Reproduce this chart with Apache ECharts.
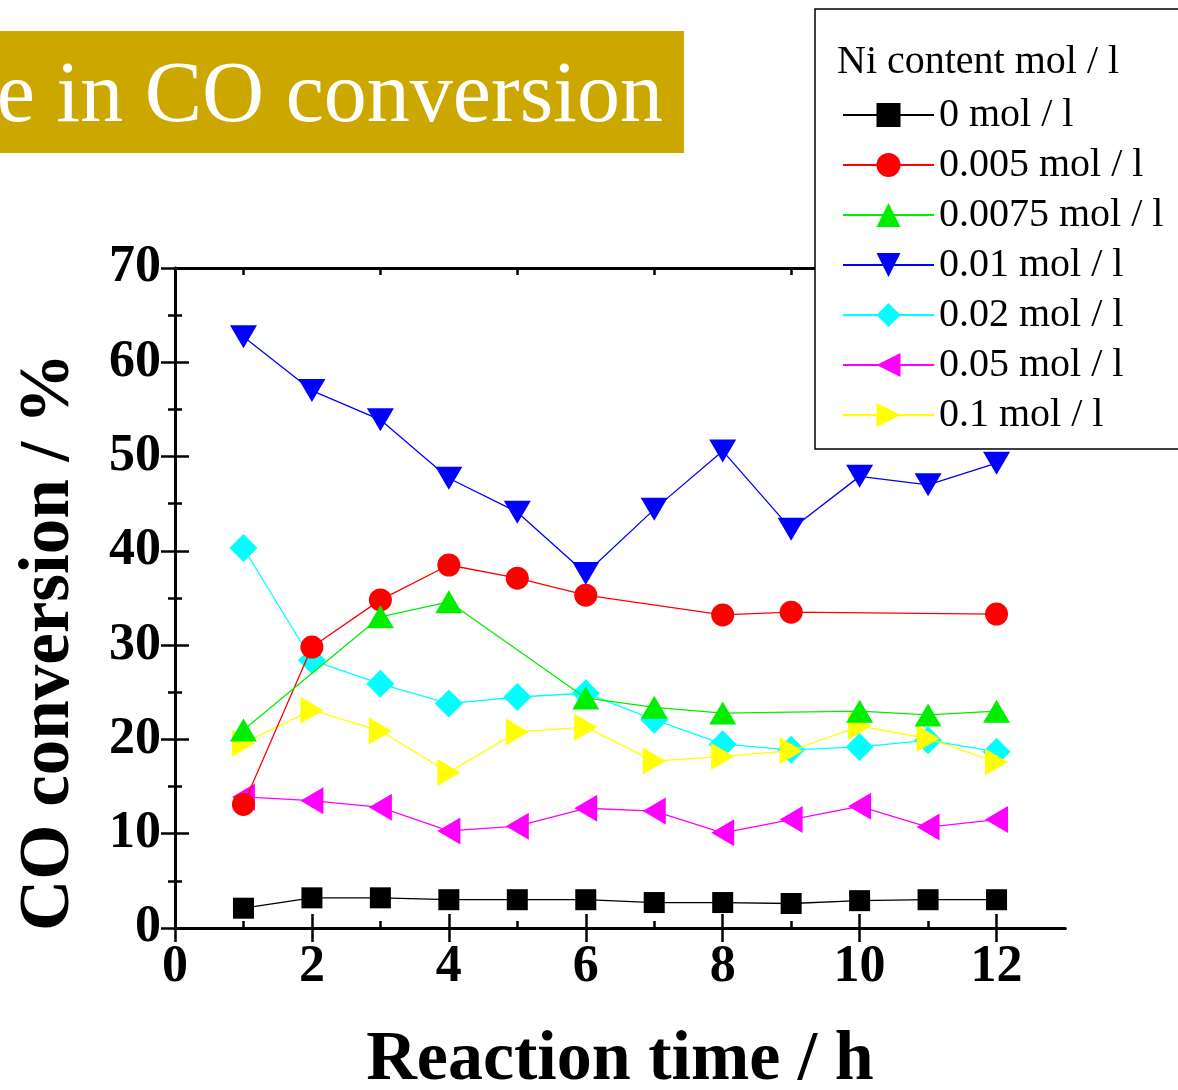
<!DOCTYPE html>
<html>
<head>
<meta charset="utf-8">
<script src="https://cdn.jsdelivr.net/npm/echarts@6/dist/echarts.min.js"></script>
<style>
html,body{margin:0;padding:0;background:#fff;}
#chart{width:1178px;height:1090px;}
</style>
</head>
<body>
<div id="chart"></div>
<script>
// ---- data ----
const hours = [1, 2, 3, 4, 5, 6, 7, 8, 9, 10, 11, 12];
const seriesNames = ['0 mol / l', '0.005 mol / l', '0.0075 mol / l', '0.01 mol / l', '0.02 mol / l', '0.05 mol / l', '0.1 mol / l'];
const ni_0      = [2.1, 3.2, 3.2, 3.0, 3.0, 3.0, 2.7, 2.7, 2.6, 2.9, 3.0, 3.0];
const ni_0005   = [13.1, 29.8, 34.8, 38.5, 37.1, 35.3, null, 33.2, 33.5, null, null, 33.3];
const ni_00075  = [21.0, null, 33.0, 34.6, null, 24.4, 23.4, 22.8, null, 23.0, 22.6, 23.0];
const ni_001    = [62.7, 57.0, 53.9, 47.7, 44.1, 37.6, 44.4, 50.6, 42.3, 47.9, 47.0, 49.3];
const ni_002    = [40.3, 28.4, 25.9, 23.8, 24.5, 24.9, 22.1, 19.5, 18.9, 19.2, 19.9, 18.7];
const ni_005    = [13.9, 13.5, 12.8, 10.3, 10.8, 12.7, 12.4, 10.1, 11.5, 12.9, 10.7, 11.5];
const ni_01     = [19.6, 23.1, 20.9, 16.5, 20.8, 21.3, 17.7, 18.2, 18.8, 21.4, 20.1, 17.6];
const xMajorTicks = [0, 2, 4, 6, 8, 10, 12];
const xMinorTicks = [1, 3, 5, 7, 9, 11];
const yTickLabels = ['0', '10', '20', '30', '40', '50', '60', '70'];
const bannerText = 'e in CO conversion';
const legendTitle = 'Ni content mol / l';
const xTitle = 'Reaction time / h';
const yTitle = 'CO conversion / %';

const allValues = [ni_0, ni_0005, ni_00075, ni_001, ni_002, ni_005, ni_01];
const styles = [
  {color: '#000000', symbol: 'rect',     size: [21, 21], rotate: 0,   z: 8},
  {color: '#ff0000', symbol: 'circle',   size: [23, 23], rotate: 0,   z: 6},
  {color: '#00ee00', symbol: 'triangle', size: [27, 23], rotate: 0,   z: 7},
  {color: '#0000ff', symbol: 'triangle', size: [27, 23], rotate: 180, z: 5},
  {color: '#00ffff', symbol: 'diamond',  size: [28, 28], rotate: 0,   z: 2},
  {color: '#ff00ff', symbol: 'triangle', size: [27, 23], rotate: 90,  z: 3},
  {color: '#ffff00', symbol: 'triangle', size: [27, 23], rotate: -90, z: 4}
];

const FONT = 'Liberation Serif, Times New Roman, serif';
const GL = 175, GT = 268, GW = 890, GH = 660;

const series = seriesNames.map((name, i) => ({
  name: name,
  type: 'line',
  xAxisIndex: 0,
  yAxisIndex: 0,
  data: hours.map((h, k) => [h, allValues[i][k]]),
  connectNulls: true,
  symbol: styles[i].symbol,
  symbolSize: styles[i].size,
  symbolRotate: styles[i].rotate,
  showAllSymbol: true,
  z: styles[i].z,
  itemStyle: {color: styles[i].color, borderWidth: 0},
  lineStyle: {color: styles[i].color, width: 1.3},
  emphasis: {disabled: true}
}));

const axisLineStyle = {show: true, lineStyle: {color: '#000', width: 3}};
function xAx(pos, major, labels) {
  const ax = {
    type: 'value', gridIndex: 0, position: pos, min: 0, max: 13,
    interval: 1,
    axisLine: axisLineStyle,
    axisTick: {show: true, inside: true, length: major ? 14 : 7,
               customValues: major ? xMajorTicks : xMinorTicks,
               lineStyle: {color: '#000', width: 2.5}},
    axisLabel: {show: false},
    splitLine: {show: false}
  };
  if (labels) {
    ax.axisLabel = {
      show: true, margin: 14, customValues: xMajorTicks,
      fontSize: 52, fontWeight: 'bold', fontFamily: FONT, color: '#000'
    };
    ax.name = xTitle;
    ax.nameLocation = 'middle';
    ax.nameGap = 98;
    ax.nameTextStyle = {fontSize: 70, fontWeight: 'bold', fontFamily: FONT, color: '#000'};
  }
  return ax;
}
function yAx(pos, labels) {
  return {
    type: 'value', gridIndex: 0, position: pos, min: 0, max: 70, interval: 10,
    axisLine: axisLineStyle,
    axisTick: {show: true, inside: true, length: 14, lineStyle: {color: '#000', width: 2.5}},
    minorTick: {show: true, splitNumber: 2, length: 7, lineStyle: {color: '#000', width: 2.5}},
    splitLine: {show: false},
    minorSplitLine: {show: false},
    axisLabel: labels ? {
      show: true, margin: 14, fontSize: 52, fontWeight: 'bold', fontFamily: FONT, color: '#000',
      formatter: v => yTickLabels[v / 10]
    } : {show: false}
  };
}

const option = {
  animation: false,
  backgroundColor: '#ffffff',
  grid: {left: GL, top: GT, width: GW, height: GH, containLabel: false, outerBoundsMode: 'none'},
  xAxis: [
    xAx('bottom', true, true),   // bottom major
    xAx('top', true, false),     // top major
    xAx('top', false, false),    // minor (other side)
    xAx('bottom', false, false)  // minor (other side)
  ],
  yAxis: [yAx('left', true), yAx('right', false)],
  legend: {
    orient: 'vertical',
    left: 837, top: 90,
    z: 101,
    data: seriesNames,
    itemWidth: 91, itemHeight: 30, itemGap: 10,
    selectedMode: false,
    textStyle: {fontSize: 40, lineHeight: 40, fontFamily: FONT, color: '#000', padding: [0, 0, 0, 0]}
  },
  graphic: [
    {type: 'rect', z: 100, shape: {x: 0, y: 31, width: 684, height: 122}, style: {fill: '#cca700'}},
    {type: 'text', z: 101, x: 663, y: 98, style: {text: bannerText, fill: '#fff', font: '86px ' + FONT, textAlign: 'right', textVerticalAlign: 'middle'}},
    {type: 'rect', z: 100, shape: {x: 815, y: 9, width: 400, height: 440}, style: {fill: '#fff', stroke: '#000', lineWidth: 1.5}},
    {type: 'text', z: 101, x: 837, y: 62, style: {text: legendTitle, fill: '#000', font: '40px ' + FONT, textAlign: 'left', textVerticalAlign: 'middle'}},
    {type: 'text', z: 101, x: 50, y: 642, rotation: Math.PI / 2, style: {text: yTitle, fill: '#000', font: 'bold 71px ' + FONT, textAlign: 'center', textVerticalAlign: 'middle'}}
  ],
  series: series
};

const chart = echarts.init(document.getElementById('chart'), null, {renderer: 'canvas'});
chart.setOption(option);
</script>
</body>
</html>
